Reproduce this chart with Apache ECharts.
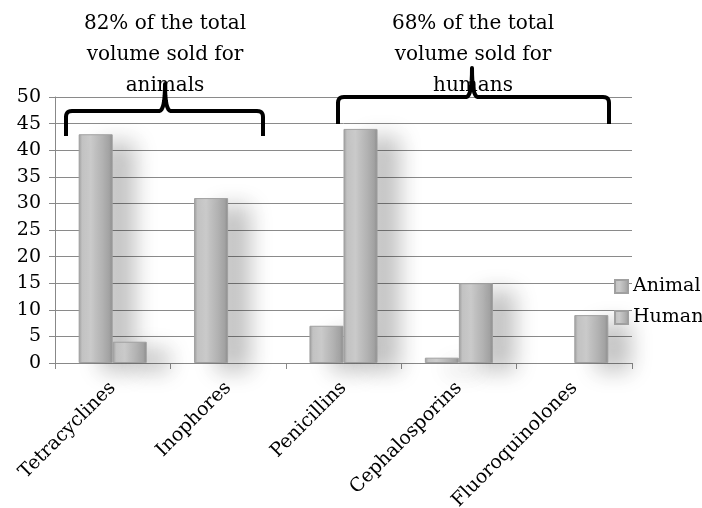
<!DOCTYPE html>
<html>
<head>
<meta charset="utf-8">
<script src="https://cdn.jsdelivr.net/npm/echarts@6/dist/echarts.min.js"></script>
<style>
  html, body { margin: 0; padding: 0; background: #fff; }
  #chart { width: 702px; height: 508px; }
</style>
</head>
<body>
<div id="chart"></div>
<script>
// Antibiotic classes and share of volume sold (%)
const categories = ['Tetracyclines', 'Inophores', 'Penicillins', 'Cephalosporins', 'Fluoroquinolones'];
const animalValues = [43, 31, 7, 1, 0];
const humanValues = [4, 0, 44, 15, 9];
const seriesNames = ['Animal', 'Human'];
const groupNotes = [
  '82% of the total\nvolume sold for\nanimals',
  '68% of the total\nvolume sold for\nhumans'
];

const FONT = 'DejaVu Serif';

const barFill = new echarts.graphic.LinearGradient(0, 0, 1, 0, [
  { offset: 0, color: '#9a9a9a' },
  { offset: 0.1, color: '#c2c2c2' },
  { offset: 0.35, color: '#cbcbcb' },
  { offset: 0.7, color: '#b4b4b4' },
  { offset: 0.9, color: '#a4a4a4' },
  { offset: 1, color: '#8c8c8c' }
]);

const barStyle = {
  color: barFill,
  borderColor: '#a0a0a0',
  borderWidth: 1,
  shadowColor: 'rgba(0,0,0,0.24)',
  shadowBlur: 22,
  shadowOffsetX: 22,
  shadowOffsetY: 8
};

// zero values produce no visible bar
function barData(values) {
  return values.map(function (v) {
    return v === 0 ? { value: v, itemStyle: { opacity: 0 } } : v;
  });
}

// quadratic curve sampled into points
function quad(p0, c, p1, n) {
  const pts = [];
  for (let i = 1; i <= n; i++) {
    const t = i / n, u = 1 - t;
    pts.push([u * u * p0[0] + 2 * u * t * c[0] + t * t * p1[0],
              u * u * p0[1] + 2 * u * t * c[1] + t * t * p1[1]]);
  }
  return pts;
}

// curly brace outline: span [x0,x1], bar line at y, ends drop to yEnd, tip rises to yTip at xm
function bracePoints(x0, x1, xm, y, yEnd, yTip) {
  const r = 6;
  let pts = [[x0, yEnd], [x0, y + r]];
  pts = pts.concat(quad([x0, y + r], [x0, y], [x0 + r, y], 6));
  pts.push([xm - 6, y]);
  pts = pts.concat(quad([xm - 6, y], [xm, y], [xm, yTip], 8));
  pts = pts.concat(quad([xm, yTip], [xm, y], [xm + 6, y], 8));
  pts.push([x1 - r, y]);
  pts = pts.concat(quad([x1 - r, y], [x1, y], [x1, y + r], 6));
  pts.push([x1, yEnd]);
  return pts;
}

const chart = echarts.init(document.getElementById('chart'), null, { renderer: 'canvas' });

chart.setOption({
  backgroundColor: '#ffffff',
  animation: false,
  textStyle: { fontFamily: FONT, color: '#000' },
  grid: { left: 55, right: 70, top: 97, bottom: 145, containLabel: false, outerBoundsMode: 'none' },
  legend: {
    data: seriesNames,
    orient: 'vertical',
    left: 609,
    top: 272,
    itemWidth: 13,
    itemHeight: 13,
    itemGap: 12,
    icon: 'rect',
    textStyle: { fontFamily: FONT, fontSize: 19, color: '#000' }
  },
  xAxis: {
    type: 'category',
    data: categories,
    axisLine: { lineStyle: { color: '#888', width: 1 } },
    axisTick: { show: true, alignWithLabel: false, length: 6, lineStyle: { color: '#888' } },
    axisLabel: { rotate: 45, fontFamily: FONT, fontSize: 19, color: '#000', margin: 22, interval: 0 }
  },
  yAxis: {
    type: 'value',
    min: 0,
    max: 50,
    interval: 5,
    axisLine: { show: true, lineStyle: { color: '#888', width: 1 } },
    axisTick: { show: true, length: 6, lineStyle: { color: '#888' } },
    axisLabel: { fontFamily: FONT, fontSize: 19, color: '#000', margin: 14 },
    splitLine: { lineStyle: { color: '#8a8a8a', width: 1 } }
  },
  series: [
    {
      name: seriesNames[0],
      type: 'bar',
      data: barData(animalValues),
      barGap: '0%',
      barCategoryGap: '41%',
      itemStyle: barStyle
    },
    {
      name: seriesNames[1],
      type: 'bar',
      data: barData(humanValues),
      barGap: '0%',
      barCategoryGap: '41%',
      itemStyle: barStyle
    }
  ],
  graphic: [
    {
      type: 'text', x: 165, y: 8, z: 20,
      style: { text: groupNotes[0], font: '20px "DejaVu Serif"', lineHeight: 31, fill: '#000', textAlign: 'center' }
    },
    {
      type: 'text', x: 473, y: 8, z: 20,
      style: { text: groupNotes[1], font: '20px "DejaVu Serif"', lineHeight: 31, fill: '#000', textAlign: 'center' }
    },
    {
      type: 'polyline', z: 30,
      shape: { points: bracePoints(66, 263, 165, 111, 136, 84) },
      style: { fill: null, stroke: '#000', lineWidth: 4, lineJoin: 'round' }
    },
    {
      type: 'polyline', z: 30,
      shape: { points: bracePoints(338, 609, 472, 97, 124, 68) },
      style: { fill: null, stroke: '#000', lineWidth: 4, lineJoin: 'round' }
    }
  ]
});
</script>
</body>
</html>
